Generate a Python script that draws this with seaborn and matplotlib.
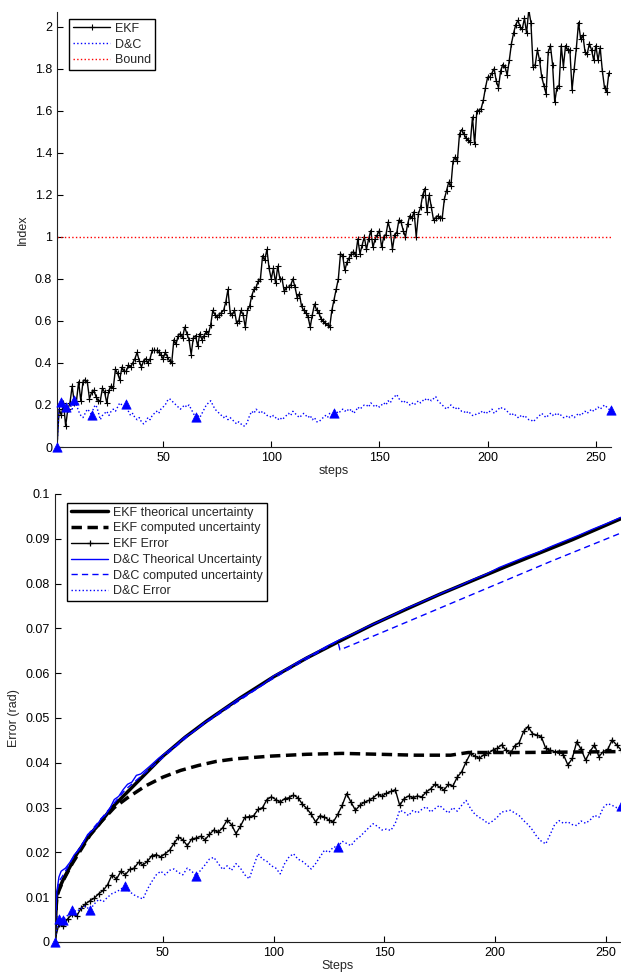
import numpy as np
import matplotlib
matplotlib.use('Agg')
import matplotlib.pyplot as plt
import seaborn as sns
from matplotlib.ticker import FuncFormatter

# ---------------- top panel : consistency index ----------------
steps_top = list(range(1, 257))
ekf_index = [
    0.00, 0.18, 0.15, 0.21, 0.10, 0.18, 0.21, 0.29, 0.21, 0.22,
    0.31, 0.22, 0.31, 0.32, 0.31, 0.23, 0.26, 0.27, 0.24, 0.22,
    0.22, 0.28, 0.26, 0.21, 0.27, 0.29, 0.28, 0.37, 0.35, 0.32,
    0.38, 0.36, 0.36, 0.39, 0.38, 0.40, 0.42, 0.45, 0.41, 0.38,
    0.41, 0.42, 0.40, 0.42, 0.46, 0.46, 0.46, 0.45, 0.44, 0.42,
    0.45, 0.43, 0.41, 0.40, 0.51, 0.49, 0.53, 0.54, 0.52, 0.57,
    0.54, 0.51, 0.44, 0.52, 0.53, 0.48, 0.54, 0.51, 0.53, 0.55,
    0.54, 0.58, 0.65, 0.63, 0.62, 0.63, 0.64, 0.65, 0.69, 0.75,
    0.64, 0.63, 0.65, 0.59, 0.60, 0.65, 0.63, 0.57, 0.65, 0.67,
    0.72, 0.75, 0.76, 0.79, 0.80, 0.91, 0.89, 0.94, 0.85, 0.80,
    0.85, 0.78, 0.86, 0.80, 0.80, 0.74, 0.76, 0.76, 0.77, 0.80,
    0.76, 0.71, 0.73, 0.67, 0.65, 0.64, 0.62, 0.57, 0.63, 0.68,
    0.65, 0.64, 0.61, 0.60, 0.59, 0.58, 0.57, 0.65, 0.70, 0.75,
    0.80, 0.92, 0.91, 0.84, 0.88, 0.90, 0.92, 0.93, 0.91, 0.99,
    0.92, 0.96, 1.00, 0.94, 0.99, 1.03, 0.95, 0.99, 1.01, 1.03,
    0.95, 1.00, 1.01, 1.07, 1.03, 0.94, 1.01, 1.02, 1.08, 1.07,
    1.03, 1.00, 1.06, 1.10, 1.09, 1.12, 1.00, 1.11, 1.14, 1.20,
    1.23, 1.12, 1.20, 1.14, 1.08, 1.09, 1.10, 1.09, 1.09, 1.18,
    1.22, 1.26, 1.24, 1.36, 1.38, 1.36, 1.49, 1.51, 1.49, 1.47,
    1.46, 1.45, 1.57, 1.44, 1.60, 1.60, 1.61, 1.65, 1.71, 1.76,
    1.76, 1.78, 1.80, 1.74, 1.71, 1.79, 1.82, 1.81, 1.77, 1.84,
    1.92, 1.97, 2.01, 2.03, 2.00, 1.99, 2.04, 1.97, 2.08, 2.02,
    1.81, 1.82, 1.89, 1.84, 1.76, 1.72, 1.68, 1.88, 1.91, 1.82,
    1.64, 1.71, 1.72, 1.91, 1.81, 1.91, 1.89, 1.89, 1.70, 1.80,
    1.90, 2.02, 1.94, 1.96, 1.88, 1.87, 1.92, 1.89, 1.84, 1.91,
    1.84, 1.90, 1.79, 1.71, 1.69, 1.78,
]

steps_dc = list(range(1, 258))
dc_index = [
    0.00, 0.20, 0.216, 0.17, 0.188, 0.19, 0.21, 0.18, 0.224, 0.20,
    0.17, 0.15, 0.14, 0.16, 0.18, 0.17, 0.152, 0.19, 0.20, 0.17,
    0.13, 0.15, 0.16, 0.17, 0.15, 0.17, 0.18, 0.17, 0.19, 0.21,
    0.20, 0.19, 0.203, 0.17, 0.15, 0.16, 0.14, 0.13, 0.14, 0.12,
    0.11, 0.12, 0.14, 0.13, 0.15, 0.16, 0.17, 0.16, 0.18, 0.19,
    0.20, 0.22, 0.23, 0.22, 0.21, 0.20, 0.19, 0.18, 0.19, 0.20,
    0.19, 0.20, 0.18, 0.16, 0.141, 0.15, 0.14, 0.16, 0.18, 0.20,
    0.21, 0.22, 0.20, 0.18, 0.17, 0.16, 0.15, 0.14, 0.15, 0.13,
    0.14, 0.13, 0.12, 0.11, 0.12, 0.11, 0.10, 0.10, 0.12, 0.15,
    0.17, 0.16, 0.18, 0.17, 0.16, 0.17, 0.16, 0.15, 0.15, 0.14,
    0.15, 0.14, 0.13, 0.14, 0.13, 0.14, 0.15, 0.16, 0.15, 0.17,
    0.16, 0.15, 0.14, 0.15, 0.16, 0.15, 0.14, 0.15, 0.13, 0.14,
    0.12, 0.12, 0.13, 0.14, 0.15, 0.14, 0.16, 0.15, 0.164, 0.17,
    0.16, 0.17, 0.18, 0.17, 0.18, 0.17, 0.18, 0.16, 0.17, 0.19,
    0.18, 0.19, 0.20, 0.20, 0.19, 0.21, 0.20, 0.19, 0.20, 0.19,
    0.20, 0.21, 0.20, 0.22, 0.21, 0.23, 0.24, 0.25, 0.23, 0.22,
    0.21, 0.22, 0.21, 0.20, 0.21, 0.20, 0.21, 0.22, 0.21, 0.22,
    0.23, 0.22, 0.23, 0.22, 0.23, 0.24, 0.22, 0.21, 0.20, 0.19,
    0.18, 0.19, 0.20, 0.19, 0.18, 0.19, 0.18, 0.17, 0.17, 0.16,
    0.17, 0.16, 0.15, 0.15, 0.16, 0.16, 0.17, 0.16, 0.17, 0.16,
    0.17, 0.18, 0.16, 0.17, 0.18, 0.19, 0.18, 0.18, 0.17, 0.16,
    0.15, 0.16, 0.15, 0.14, 0.15, 0.14, 0.15, 0.14, 0.13, 0.13,
    0.12, 0.13, 0.14, 0.15, 0.16, 0.15, 0.14, 0.15, 0.16, 0.15,
    0.16, 0.15, 0.16, 0.15, 0.14, 0.14, 0.15, 0.14, 0.15, 0.14,
    0.15, 0.16, 0.15, 0.16, 0.17, 0.16, 0.17, 0.18, 0.17, 0.18,
    0.19, 0.18, 0.19, 0.20, 0.19, 0.18, 0.176,
]
bound_level = 1.0

# D&C merge steps (marked with triangles)
merge_steps = [1, 3, 5, 9, 17, 33, 65, 129, 257]

# ---------------- bottom panel : errors ----------------
ekf_theo_x = [1, 2, 3, 5, 8, 11, 17, 21, 27, 33, 40, 50, 60, 70, 85, 100,
              115, 130, 145, 160, 175, 190, 205, 220, 235, 250, 257]
ekf_theo = [0.0, 0.0105, 0.0118, 0.0140, 0.0168, 0.0196, 0.0240, 0.0262,
            0.0300, 0.0330, 0.0365, 0.0415, 0.0457, 0.0494, 0.0545, 0.0592,
            0.0634, 0.0672, 0.0709, 0.0743, 0.0776, 0.0807, 0.0838, 0.0868,
            0.0898, 0.0930, 0.0945]

ekf_comp_x = [1, 2, 3, 5, 9, 17, 22, 28, 34, 42, 50, 58, 66, 74, 83, 99,
              115, 131, 148, 164, 180, 188, 213, 257]
ekf_comp = [0.0, 0.0100, 0.0115, 0.0138, 0.0175, 0.0238, 0.0268, 0.0300,
            0.0322, 0.0348, 0.0368, 0.0383, 0.0394, 0.0403, 0.0409, 0.0415,
            0.0419, 0.0421, 0.0419, 0.0417, 0.0417, 0.0423, 0.0423, 0.0425]

dc_theo_x = [1, 2, 3, 4, 6, 8, 10, 12, 14, 16, 18, 20, 22, 24, 26, 28, 30,
             32, 34, 36, 38, 40, 44, 48, 52, 56, 60, 64, 68, 72, 76, 80, 84,
             88, 92, 96, 100, 106, 112, 118, 124, 130, 136, 142, 148, 154,
             160, 166, 172, 178, 184, 190, 196, 202, 208, 214, 220, 226, 232,
             238, 244, 250, 257]
dc_theo = [0.0, 0.0110, 0.0145, 0.0158, 0.0165, 0.0178, 0.0195, 0.0205,
           0.0222, 0.0240, 0.0248, 0.0258, 0.0275, 0.0283, 0.0298, 0.0318,
           0.0325, 0.0340, 0.0352, 0.0357, 0.0372, 0.0375, 0.0392, 0.0410,
           0.0425, 0.0440, 0.0458, 0.0470, 0.0487, 0.0500, 0.0515, 0.0528,
           0.0542, 0.0553, 0.0565, 0.0578, 0.0594, 0.0610, 0.0628, 0.0643,
           0.0660, 0.0675, 0.0688, 0.0703, 0.0716, 0.0730, 0.0745, 0.0757,
           0.0770, 0.0783, 0.0795, 0.0809, 0.0821, 0.0836, 0.0848, 0.0860,
           0.0871, 0.0884, 0.0896, 0.0908, 0.0921, 0.0933, 0.0948]

dc_comp_x = [1, 2, 3, 5, 9, 17, 33, 65, 97, 129, 130, 150, 175, 200, 225, 257]
dc_comp = [0.0, 0.0108, 0.0135, 0.0150, 0.0185, 0.0245, 0.0340, 0.0475,
           0.0580, 0.0672, 0.0652, 0.0693, 0.0745, 0.0797, 0.0849, 0.0913]

steps_err = list(range(1, 258, 2))
ekf_error = [
    0.0, 0.0040, 0.0035, 0.0052, 0.0062, 0.0058, 0.0075, 0.0085, 0.0092, 0.0098,
    0.0108, 0.0115, 0.0128, 0.0150, 0.0140, 0.0158, 0.0150, 0.0162, 0.0165, 0.0178,
    0.0172, 0.0180, 0.0193, 0.0195, 0.0190, 0.0197, 0.0205, 0.0220, 0.0234, 0.0228,
    0.0215, 0.0230, 0.0232, 0.0236, 0.0228, 0.0240, 0.0250, 0.0245, 0.0255, 0.0272,
    0.0262, 0.0242, 0.0258, 0.0278, 0.0280, 0.0282, 0.0296, 0.0300, 0.0318, 0.0324,
    0.0318, 0.0312, 0.0320, 0.0322, 0.0328, 0.0322, 0.0308, 0.0298, 0.0285, 0.0268,
    0.0282, 0.0279, 0.0272, 0.0268, 0.0285, 0.0305, 0.0331, 0.0312, 0.0294, 0.0305,
    0.0312, 0.0316, 0.0322, 0.0330, 0.0325, 0.0332, 0.0336, 0.0340, 0.0305, 0.0320,
    0.0326, 0.0322, 0.0326, 0.0324, 0.0335, 0.0342, 0.0352, 0.0346, 0.0339, 0.0352,
    0.0348, 0.0368, 0.0380, 0.0402, 0.0421, 0.0415, 0.0410, 0.0418, 0.0421, 0.0428,
    0.0432, 0.0440, 0.0428, 0.0421, 0.0438, 0.0445, 0.0470, 0.0481, 0.0465, 0.0462,
    0.0458, 0.0432, 0.0428, 0.0425, 0.0425, 0.0418, 0.0395, 0.0410, 0.0447, 0.0430,
    0.0406, 0.0425, 0.0440, 0.0414, 0.0425, 0.0430, 0.0451, 0.0440, 0.0429,
]
dc_error = [
    0.0, 0.0052, 0.0050, 0.0060, 0.0072, 0.0068, 0.0075, 0.0080, 0.0072, 0.0085,
    0.0095, 0.0090, 0.0100, 0.0108, 0.0112, 0.0118, 0.0126, 0.0112, 0.0105, 0.0100,
    0.0096, 0.0118, 0.0135, 0.0150, 0.0158, 0.0150, 0.0160, 0.0163, 0.0155, 0.0150,
    0.0165, 0.0158, 0.0148, 0.0160, 0.0172, 0.0185, 0.0189, 0.0175, 0.0162, 0.0170,
    0.0160, 0.0175, 0.0165, 0.0150, 0.0141, 0.0170, 0.0197, 0.0185, 0.0180, 0.0170,
    0.0165, 0.0152, 0.0175, 0.0190, 0.0197, 0.0185, 0.0180, 0.0172, 0.0163, 0.0175,
    0.0190, 0.0205, 0.0200, 0.0212, 0.0212, 0.0225, 0.0220, 0.0215, 0.0228, 0.0235,
    0.0245, 0.0255, 0.0264, 0.0258, 0.0250, 0.0252, 0.0249, 0.0265, 0.0294, 0.0290,
    0.0282, 0.0294, 0.0288, 0.0296, 0.0302, 0.0290, 0.0298, 0.0305, 0.0296, 0.0288,
    0.0300, 0.0292, 0.0305, 0.0316, 0.0298, 0.0285, 0.0278, 0.0272, 0.0264, 0.0270,
    0.0278, 0.0290, 0.0292, 0.0294, 0.0288, 0.0282, 0.0271, 0.0262, 0.0250, 0.0235,
    0.0225, 0.0219, 0.0240, 0.0262, 0.0271, 0.0265, 0.0268, 0.0262, 0.0260, 0.0270,
    0.0265, 0.0272, 0.0283, 0.0278, 0.0300, 0.0309, 0.0305, 0.0300, 0.0303,
]

sns.set_style('ticks')
plt.rcParams['font.family'] = ['Liberation Sans', 'DejaVu Sans']
plt.rcParams['font.size'] = 9
plt.rcParams['axes.edgecolor'] = 'black'
plt.rcParams['axes.linewidth'] = 0.8

fig = plt.figure(figsize=(6.21, 9.73), dpi=100)
ax1 = fig.add_axes([57 / 621, 1 - 447 / 973, 554 / 621, 435 / 973])
ax2 = fig.add_axes([54.5 / 621, 1 - 942 / 973, 566.5 / 621, 448 / 973])

fmt = FuncFormatter(lambda v, p: '%g' % round(v, 4))
leg_kw = dict(loc='upper left', frameon=True, fancybox=False, framealpha=1,
              edgecolor='black', borderaxespad=0, borderpad=0.3,
              labelspacing=0.3, handlelength=3.0, handletextpad=0.4,
              numpoints=1, fontsize=9)

# ---- top ----
sns.lineplot(x=steps_top, y=ekf_index, ax=ax1, color='black', lw=1,
             marker='+', markersize=4, markeredgewidth=0.8,
             markeredgecolor='black', estimator=None, legend=False)
h_ekf = ax1.lines[-1]
sns.lineplot(x=steps_dc, y=dc_index, ax=ax1, color='blue', lw=1,
             linestyle=':', estimator=None, legend=False)
h_dc = ax1.lines[-1]
h_bound = ax1.axhline(bound_level, color='red', lw=1, linestyle=':')
tri_top = [dc_index[s - 1] for s in merge_steps]
sns.scatterplot(x=merge_steps, y=tri_top, ax=ax1, marker='^', s=45,
                color='blue', edgecolor='blue', linewidth=0.5,
                zorder=5, clip_on=False, legend=False)

ax1.set_xlim(1, 257)
ax1.set_ylim(0, 2.07)
ax1.set_xticks([50, 100, 150, 200, 250])
ax1.set_yticks(np.arange(0, 2.01, 0.2))
ax1.yaxis.set_major_formatter(fmt)
ax1.set_xlabel('steps', labelpad=1)
ax1.set_ylabel('Index')
ax1.legend(handles=[h_ekf, h_dc, h_bound], labels=['EKF', 'D&C', 'Bound'],
           bbox_to_anchor=(12 / 554, 1 - 7 / 435), **leg_kw)

# ---- bottom ----
sns.lineplot(x=ekf_theo_x, y=ekf_theo, ax=ax2, color='black', lw=2.5,
             estimator=None, legend=False)
h1 = ax2.lines[-1]
sns.lineplot(x=ekf_comp_x, y=ekf_comp, ax=ax2, color='black', lw=2.5,
             linestyle=(0, (3, 1.6)), estimator=None, legend=False)
h2 = ax2.lines[-1]
sns.lineplot(x=steps_err, y=ekf_error, ax=ax2, color='black', lw=1,
             marker='+', markersize=4.5, markeredgewidth=0.9,
             markeredgecolor='black', estimator=None, legend=False)
h3 = ax2.lines[-1]
sns.lineplot(x=dc_theo_x, y=dc_theo, ax=ax2, color='blue', lw=1,
             estimator=None, legend=False)
h4 = ax2.lines[-1]
sns.lineplot(x=dc_comp_x, y=dc_comp, ax=ax2, color='blue', lw=1,
             linestyle=(0, (4.5, 3)), estimator=None, legend=False)
h5 = ax2.lines[-1]
sns.lineplot(x=steps_err, y=dc_error, ax=ax2, color='blue', lw=1,
             linestyle=':', estimator=None, legend=False)
h6 = ax2.lines[-1]
tri_bot = [dc_error[(s - 1) // 2] for s in merge_steps]
sns.scatterplot(x=merge_steps, y=tri_bot, ax=ax2, marker='^', s=45,
                color='blue', edgecolor='blue', linewidth=0.5,
                zorder=5, clip_on=False, legend=False)

ax2.set_xlim(1, 257)
ax2.set_ylim(0, 0.1)
ax2.set_xticks([50, 100, 150, 200, 250])
ax2.set_yticks(np.arange(0, 0.1001, 0.01))
ax2.yaxis.set_major_formatter(fmt)
ax2.set_xlabel('Steps', labelpad=1)
ax2.set_ylabel('Error (rad)')
ax2.legend(handles=[h1, h2, h3, h4, h5, h6],
           labels=['EKF theorical uncertainty', 'EKF computed uncertainty',
                   'EKF Error', 'D&C Theorical Uncertainty',
                   'D&C computed uncertainty', 'D&C Error'],
           bbox_to_anchor=(12.5 / 566.5, 1 - 9 / 448), **leg_kw)

for ax in (ax1, ax2):
    sns.despine(ax=ax)
    ax.tick_params(direction='in', length=4, width=0.8, labelsize=9,
                   colors='black')
    for sp in ax.spines.values():
        sp.set_color('#222222')

fig.savefig('out.png', dpi=100)
